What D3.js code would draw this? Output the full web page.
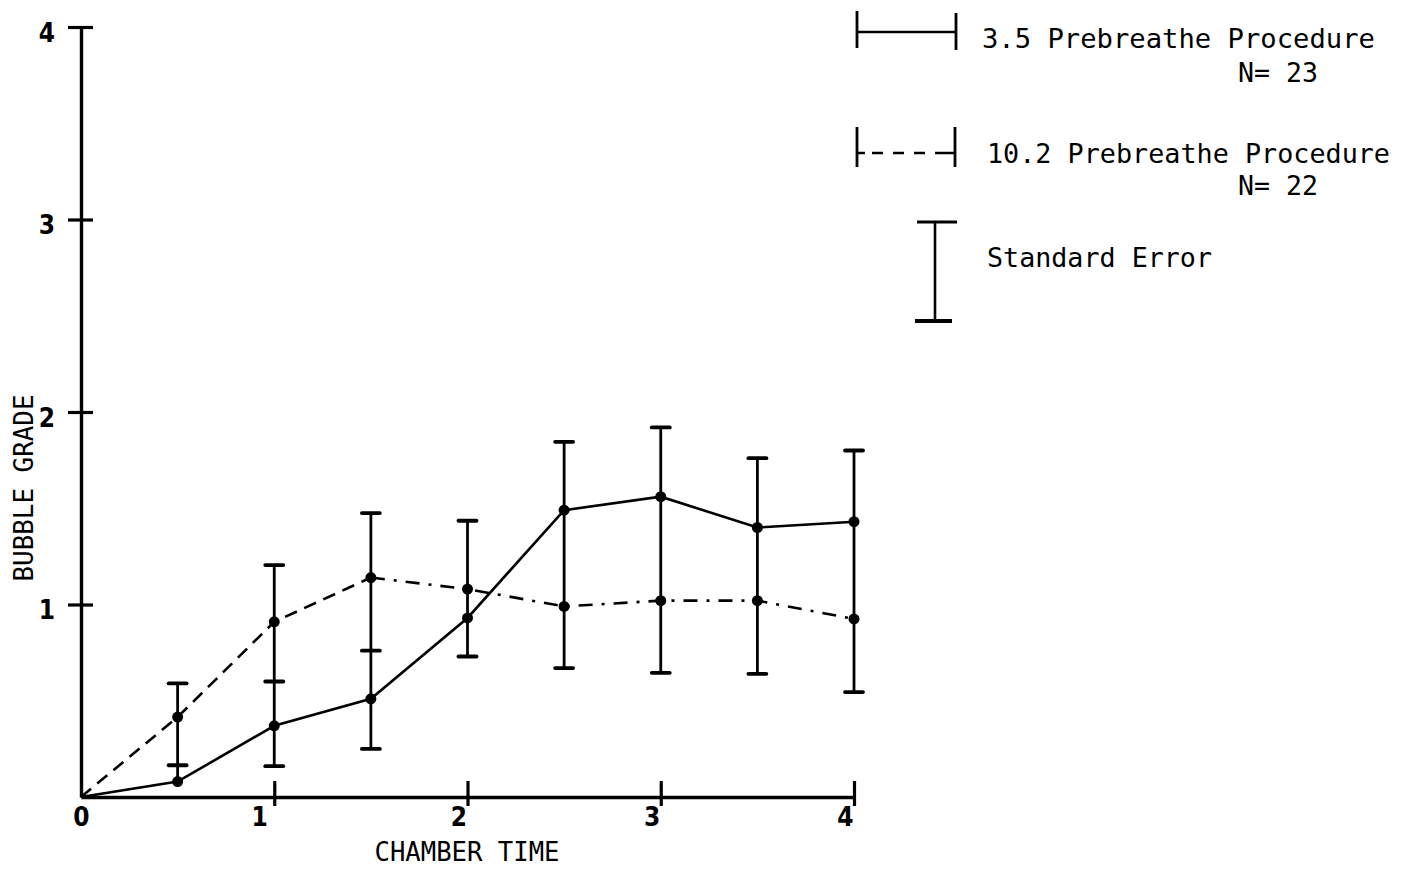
<!DOCTYPE html>
<html><head><meta charset="utf-8">
<script src="https://cdn.jsdelivr.net/npm/d3@7"></script>
<style>html,body{margin:0;padding:0;background:#fff;}</style>
</head><body>
<svg id="chart" width="1411" height="875"></svg>
<script>
// ---- data ----
const chamberTime = [0, 0.5, 1, 1.5, 2, 2.5, 3, 3.5, 4];
const grade35  = [0, 0.08, 0.37, 0.51, 0.93, 1.49, 1.56, 1.40, 1.43];
const grade102 = [0, 0.415, 0.91, 1.14, 1.08, 0.99, 1.02, 1.02, 0.925];
// standard-error cap values as drawn (null = no cap drawn)
const upper35  = [null, 0.165, 0.60, 0.76, null, 1.845, 1.92, 1.76, 1.80];
const lower35  = [null, null, 0.16, 0.25, 0.73, null, null, null, null];
const upper102 = [null, 0.59, 1.205, 1.475, 1.435, null, null, null, null];
const lower102 = [null, null, null, null, null, 0.67, 0.645, 0.64, 0.545];
const xTicks = [0, 1, 2, 3, 4];
const yTicks = [1, 2, 3, 4];
const xTitle = "CHAMBER TIME";
const yTitle = "BUBBLE GRADE";
const legendLabels = ["3.5 Prebreathe Procedure", "10.2 Prebreathe Procedure", "Standard Error"];
const legendN = ["N= 23", "N= 22"];

// ---- drawing ----
const FONT = "'DejaVu Sans Mono', 'Liberation Mono', monospace";
const DIGIT_FONT = "'DejaVu Sans Condensed', 'DejaVu Sans', sans-serif";
const svg = d3.select("#chart");
svg.append("rect").attr("width", 1411).attr("height", 875).attr("fill", "#fff");

const x = d3.scaleLinear().domain([0, 4]).range([81, 854]);
const y = d3.scaleLinear().domain([0, 4]).range([797, 27]);

// x axis
const gx = svg.append("g").attr("transform", `translate(0,${y(0)})`)
  .call(d3.axisBottom(x).tickValues(xTicks).tickSizeOuter(0).tickFormat(d3.format("d")));
gx.select(".domain").attr("stroke", "#000").attr("stroke-width", 3.4);
gx.selectAll(".tick line").attr("stroke", "#000").attr("stroke-width", 3.2)
  .attr("y1", -16).attr("y2", 9).attr("display", d => d === 0 ? "none" : null);
gx.selectAll(".tick text").attr("fill", "#000").style("font-family", DIGIT_FONT).style("font-size", "26px")
  .style("font-weight", "bold")
  .attr("y", 11).attr("dy", "0.71em").attr("dx", d => d === 0 ? 0 : (d === 1 ? -15 : -9));

// y axis
const gy = svg.append("g").attr("transform", `translate(${x(0)},0)`)
  .call(d3.axisLeft(y).tickValues(yTicks).tickSizeOuter(0).tickFormat(d3.format("d")));
gy.select(".domain").attr("stroke", "#000").attr("stroke-width", 3.4);
gy.selectAll(".tick line").attr("stroke", "#000").attr("stroke-width", 3.2)
  .attr("x1", -13).attr("x2", 12);
gy.selectAll(".tick text").attr("fill", "#000").style("font-family", DIGIT_FONT).style("font-size", "26px")
  .style("font-weight", "bold")
  .attr("x", -26).attr("dy", "0.55em");

// axis titles
svg.append("text").attr("x", 467).attr("y", 861).attr("text-anchor", "middle")
  .attr("textLength", 185).attr("lengthAdjust", "spacingAndGlyphs")
  .style("font-family", FONT).style("font-size", "27px").text(xTitle);
svg.append("text").attr("transform", "translate(33,488) rotate(-90)").attr("text-anchor", "middle")
  .attr("textLength", 187).attr("lengthAdjust", "spacingAndGlyphs")
  .style("font-family", FONT).style("font-size", "27px").text(yTitle);

// error bars
const capW = 9;
chamberTime.forEach((t, i) => {
  const vals = [grade35[i], grade102[i], upper35[i], lower35[i], upper102[i], lower102[i]].filter(v => v !== null);
  const caps = [upper35[i], lower35[i], upper102[i], lower102[i]].filter(v => v !== null);
  if (!caps.length) return;
  const g = svg.append("g");
  g.append("line").attr("x1", x(t)).attr("x2", x(t))
    .attr("y1", y(d3.max(vals))).attr("y2", y(d3.min(vals)))
    .attr("stroke", "#000").attr("stroke-width", 2.8);
  caps.forEach(c => {
    g.append("line").attr("x1", x(t) - capW).attr("x2", x(t) + capW)
      .attr("y1", y(c)).attr("y2", y(c))
      .attr("stroke", "#000").attr("stroke-width", 3.8).attr("stroke-linecap", "round");
  });
});

const line = d3.line().x(d => x(d[0])).y(d => y(d[1]));
const pts35 = chamberTime.map((t, i) => [t, grade35[i]]);
const pts102 = chamberTime.map((t, i) => [t, grade102[i]]);

// 3.5 solid
svg.append("path").datum(pts35).attr("d", line).attr("fill", "none")
  .attr("stroke", "#000").attr("stroke-width", 2.6);
// 10.2 dashed (first part) then dash-dot
svg.append("path").datum(pts102.slice(0, 4)).attr("d", line).attr("fill", "none")
  .attr("stroke", "#000").attr("stroke-width", 2.6).attr("stroke-dasharray", "13,8");
svg.append("path").datum(pts102.slice(3)).attr("d", line).attr("fill", "none")
  .attr("stroke", "#000").attr("stroke-width", 2.6).attr("stroke-dasharray", "14,9,3,9");

// points
[pts35, pts102].forEach(pts => {
  svg.append("g").selectAll("circle").data(pts.slice(1)).join("circle")
    .attr("cx", d => x(d[0])).attr("cy", d => y(d[1])).attr("r", 5.5).attr("fill", "#000");
});

// legend
const lg = svg.append("g");
// solid sample
lg.append("line").attr("x1", 857).attr("x2", 956).attr("y1", 32).attr("y2", 32).attr("stroke", "#000").attr("stroke-width", 2.6);
lg.append("line").attr("x1", 857).attr("x2", 857).attr("y1", 11).attr("y2", 48).attr("stroke", "#000").attr("stroke-width", 2.8);
lg.append("line").attr("x1", 956).attr("x2", 956).attr("y1", 13).attr("y2", 50).attr("stroke", "#000").attr("stroke-width", 2.8);
// dashed sample
lg.append("line").attr("x1", 857).attr("x2", 955).attr("y1", 153).attr("y2", 153).attr("stroke", "#000").attr("stroke-width", 2.6)
  .attr("stroke-dasharray", "8,7,11,10,11,10,11,10,20");
lg.append("line").attr("x1", 857).attr("x2", 857).attr("y1", 127).attr("y2", 167).attr("stroke", "#000").attr("stroke-width", 2.8);
lg.append("line").attr("x1", 955).attr("x2", 955).attr("y1", 127).attr("y2", 167).attr("stroke", "#000").attr("stroke-width", 2.8);
// standard error sample
lg.append("line").attr("x1", 935).attr("x2", 935).attr("y1", 222).attr("y2", 321).attr("stroke", "#000").attr("stroke-width", 2.6);
lg.append("line").attr("x1", 917).attr("x2", 957).attr("y1", 222).attr("y2", 222).attr("stroke", "#000").attr("stroke-width", 3.2);
lg.append("line").attr("x1", 915).attr("x2", 952).attr("y1", 321).attr("y2", 321).attr("stroke", "#000").attr("stroke-width", 3.8);

const legendText = [
  {t: legendLabels[0], x: 982, y: 48, w: 393},
  {t: legendN[0], x: 1238, y: 82, w: 80},
  {t: legendLabels[1], x: 987, y: 163, w: 403},
  {t: legendN[1], x: 1238, y: 195, w: 80},
  {t: legendLabels[2], x: 987, y: 267, w: 225}
];
lg.selectAll("text.leg").data(legendText).join("text").attr("class", "leg")
  .attr("x", d => d.x).attr("y", d => d.y)
  .attr("textLength", d => d.w).attr("lengthAdjust", "spacingAndGlyphs")
  .style("font-family", FONT).style("font-size", "27px").attr("fill", "#000")
  .text(d => d.t);
</script>
</body></html>
